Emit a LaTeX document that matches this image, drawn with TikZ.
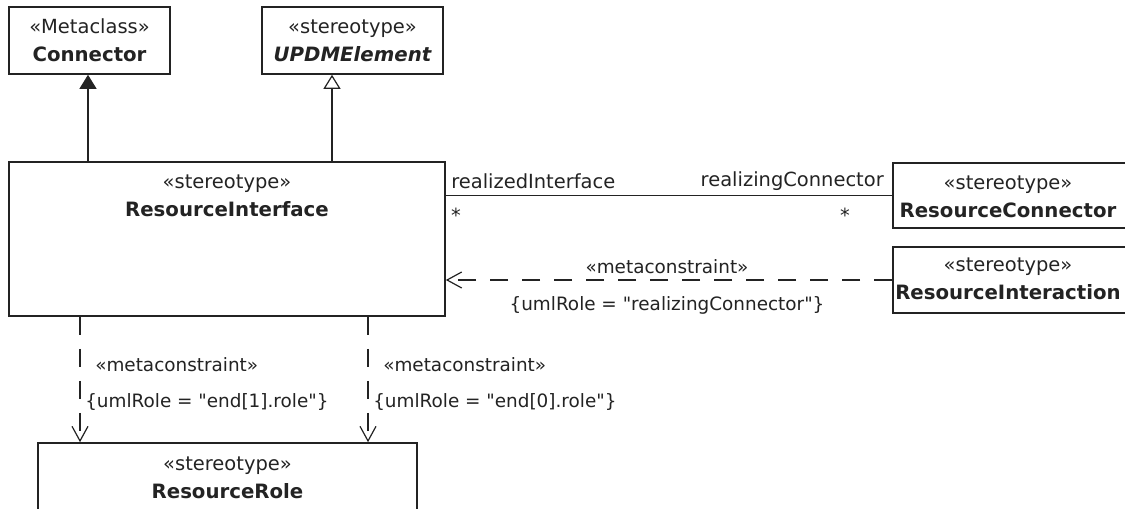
\documentclass[tikz,border=0pt]{standalone}
\usepackage{fontspec}
\setmainfont{DejaVu Sans}
\usetikzlibrary{arrows.meta}
\definecolor{ink}{RGB}{35,35,35}
\newcommand{\umlname}[2]{«#1»\\{\bfseries\fontsize{14.8}{21}\selectfont #2}}

\begin{document}
\begin{tikzpicture}[
  x=0.75pt, y=-0.75pt,
  cls/.style={draw=ink, line width=1.2pt, fill=white, inner sep=0pt, align=center},
  txt/.style={text=ink, inner sep=0pt, align=center, font=\fontsize{14.6}{21}\selectfont},
  cstr/.style={txt, font=\fontsize{13.8}{21}\selectfont},
  conline/.style={draw=ink, line width=0.9pt},
  gen/.style={conline, -{Triangle[length=10.5pt, width=12.75pt, fill=ink]}},
  realize/.style={conline, -{Triangle[open, length=10.5pt, width=12.75pt, fill=white]}},
  dep/.style={conline, dash pattern=on 13.5pt off 10.5pt, -{Straight Barb[length=11pt, width=12pt]}}
]
\path[use as bounding box, fill=white] (0,0) rectangle (1125,508);

% classes
\node[cls, txt, minimum width=120.75pt, minimum height=50.25pt] (conn) at (89.5,40.5) {\umlname{Metaclass}{Connector}};
\node[cls, txt, minimum width=135.75pt, minimum height=50.25pt] (updm) at (352.5,40.5) {\umlname{stereotype}{\itshape UPDMElement}};
\node[cls, minimum width=327pt, minimum height=115.5pt] (rint) at (227,239) {};
\node[txt] (rintname) at (227,196) {\umlname{stereotype}{ResourceInterface}};
\node[cls, minimum width=180pt, minimum height=48.75pt] (rc) at (1013,195.5) {};
\node[txt] (rcname) at (1008,197) {\umlname{stereotype}{ResourceConnector}};
\node[cls, minimum width=180pt, minimum height=49.5pt] (ri) at (1013,280) {};
\node[txt] (riname) at (1008,279) {\umlname{stereotype}{ResourceInteraction}};
\node[cls, minimum width=284.25pt, minimum height=75pt] (rr) at (227.5,493) {};
\node[txt] (rrname) at (227.5,477.5) {\umlname{stereotype}{ResourceRole}};

% connectors
\draw[gen] (rint.north -| 88,0) -- (conn.south -| 88,0);
\draw[realize] (rint.north -| 332,0) -- (updm.south -| 332,0);
\draw[conline] (rint.east |- rc.west) -- (rc.west);
\draw[dep] (ri.west) -- (rint.east |- ri.west);
\foreach \x/\k in {80/1,368/0} {
  \draw[dep] (rint.south -| \x,0) -- (rr.north -| \x,0);
  \node[cstr, anchor=west] (mc\k) at (\x+15,365) {«metaconstraint»};
  \node[cstr, anchor=west] (mr\k) at (\x+5,402) {\{umlRole = \textquotedbl end[\k].role\textquotedbl\}};
}

% labels
\node[txt, anchor=west] (rlzd) at (451,181) {realizedInterface};
\node[txt, anchor=east] (rlzg) at (884,181) {realizingConnector};
\node[txt] (mul1) at (456,215) {*};
\node[txt] (mul2) at (845,215) {*};
\node[cstr] (mc) at (667,267) {«metaconstraint»};
\node[cstr] (mr) at (667,305) {\{umlRole = \textquotedbl realizingConnector\textquotedbl\}};
\end{tikzpicture}
\end{document}
